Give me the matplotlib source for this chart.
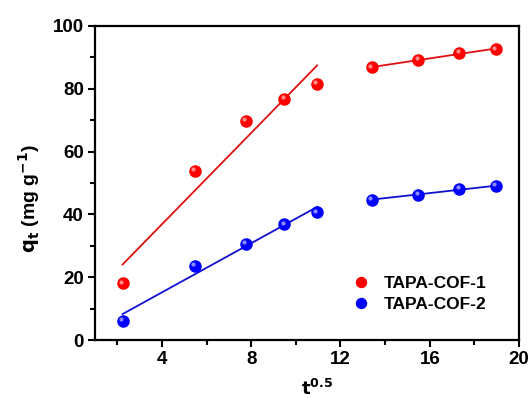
import numpy as np
import matplotlib
matplotlib.use("Agg")
import matplotlib.pyplot as plt
import matplotlib.transforms as mtransforms

plt.rcParams['font.family'] = ['Liberation Sans', 'DejaVu Sans']
plt.rcParams['font.weight'] = 'bold'

# data
t05 = [2.236, 5.477, 7.746, 9.487, 10.954, 13.416, 15.492, 17.321, 18.974]
cof1 = [18.1, 53.8, 69.7, 76.8, 81.6, 86.8, 89.2, 91.4, 92.6]
cof2 = [6.2, 23.7, 30.7, 36.8, 40.7, 44.7, 46.3, 48.1, 49.0]
labels = ["TAPA-COF-1", "TAPA-COF-2"]
colors = ["#ff0000", "#0000ff"]
line_colors = ["#e01010", "#1010d0"]
split = 5

fig = plt.figure(figsize=(5.32, 3.98), dpi=100)
ax = fig.add_axes([0.1786, 0.1457, 0.7970, 0.7890])

x = np.array(t05)
for y, lab, c, lc in zip([cof1, cof2], labels, colors, line_colors):
    y = np.array(y)
    for seg in (slice(0, split), slice(split, None)):
        xs, ys = x[seg], y[seg]
        p = np.polyfit(xs, ys, 1)
        xx = np.array([xs.min(), xs.max()])
        ax.plot(xx, np.polyval(p, xx), color=lc, lw=1.3, zorder=2)
    ax.plot(x, y, 'o', ls='none', color=c, mec=c, ms=8, label=lab, zorder=3)
    off = mtransforms.ScaledTranslation(-1.2/72, 1.2/72, fig.dpi_scale_trans)
    ax.plot(x, y, 'o', ls='none', color='white', alpha=0.55, ms=3, mew=0,
            transform=ax.transData + off, zorder=4)

ax.set_xlim(1, 20)
ax.set_ylim(0, 100)
ax.set_xticks([4, 8, 12, 16, 20])
ax.set_xticks([2, 6, 10, 14, 18], minor=True)
ax.set_yticks([0, 20, 40, 60, 80, 100])
ax.set_yticks([10, 30, 50, 70, 90], minor=True)
ax.tick_params(which='major', direction='out', length=5, width=1.5, labelsize=13.5, pad=3)
ax.tick_params(which='minor', direction='out', length=3.5, width=1.5)
ax.tick_params(top=False, right=False, which='both')
for lab in ax.get_xticklabels() + ax.get_yticklabels():
    lab.set_fontweight('bold')
for s in ax.spines.values():
    s.set_linewidth(1.6)

ax.set_xlabel(r"$\mathbf{t^{0.5}}$", fontsize=13, fontweight='bold')
ax.xaxis.set_label_coords(0.525, -0.125)
ax.set_ylabel(r"$\mathbf{q_t}$ (mg g$^{\mathbf{-1}}$)", fontsize=14, fontweight='bold')
ax.yaxis.set_label_coords(-0.125, 0.45)

leg = ax.legend(loc='lower right', bbox_to_anchor=(0.96, 0.04), frameon=False,
                handletextpad=0.3, labelspacing=0.3, markerscale=0.9,
                prop={'weight': 'bold', 'size': 12.5})

fig.savefig("out.png", dpi=100)
